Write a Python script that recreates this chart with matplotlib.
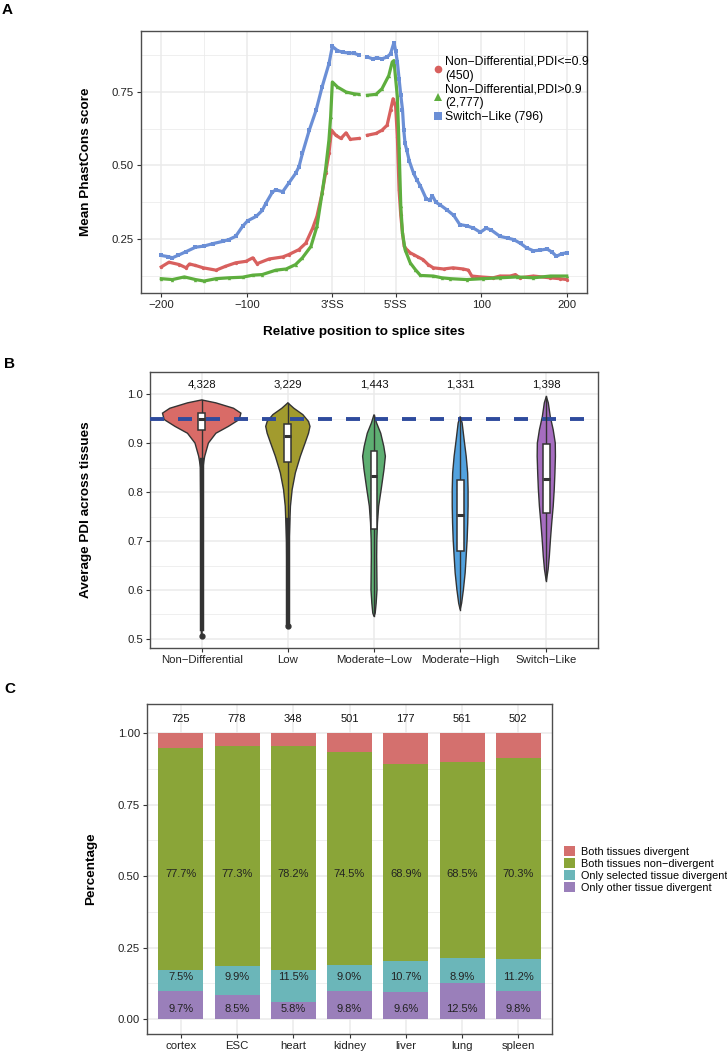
#!/usr/bin/env python3
"""
三联图: A 保守性曲线, B PDI 小提琴图, C 组织分歧堆叠柱状图
"""

import numpy as np
import matplotlib.pyplot as plt
from matplotlib.patches import Rectangle, Patch
from matplotlib.lines import Line2D

plt.rcParams['font.family'] = ['Liberation Sans', 'DejaVu Sans']

# ---------------- A: Mean PhastCons score ----------------
a_ticks = [-200, -100, 0, 74, 174, 274]
a_ticklabels = ['\u2212200', '\u2212100', "3'SS", "5'SS", '100', '200']
a_minor = [-150, -50, 37, 124, 224]
exon_gap = 36

red_pos = [-200, -191, -179, -171, -167, -160, -151, -136, -125, -113, -101, -93, -88, -74, -58, -51,
           -39, -31, -23, -18, -12, -8, -4, -1,
           4, 10, 16, 21, 31, 41, 51, 58, 64, 68, 71,
           74, 76, 78, 80, 82, 84, 87, 91, 95, 100, 106, 112, 118, 130, 141, 153, 159, 163, 173,
           188, 196, 208, 214, 219, 235, 254, 266, 274]
red_val = [0.155, 0.171, 0.163, 0.152, 0.165, 0.160, 0.152, 0.144, 0.157, 0.169, 0.174, 0.186, 0.166,
           0.182, 0.189, 0.197, 0.214, 0.236, 0.287, 0.327, 0.406, 0.473, 0.541, 0.620,
           0.603, 0.592, 0.611, 0.589, 0.592, 0.603, 0.609, 0.620, 0.637, 0.688, 0.727,
           0.700, 0.597, 0.417, 0.330, 0.270, 0.225, 0.214, 0.203, 0.197, 0.189, 0.180, 0.163,
           0.152, 0.148, 0.152, 0.148, 0.144, 0.124, 0.121, 0.118, 0.124, 0.124, 0.129, 0.118,
           0.124, 0.118, 0.115, 0.112]

green_pos = [-200, -187, -173, -160, -150, -136, -121, -105, -93, -82, -66, -54, -43, -35, -25, -18,
             -12, -8, -4, -2, 0,
             6, 16, 25, 31, 41, 51, 58, 66, 70, 72,
             76, 78, 80, 82, 85, 91, 97, 103, 118, 128, 138, 157, 176, 196, 216, 235, 255, 274]
green_val = [0.115, 0.112, 0.121, 0.112, 0.107, 0.115, 0.118, 0.120, 0.127, 0.129, 0.144, 0.148,
             0.163, 0.186, 0.225, 0.293, 0.406, 0.485, 0.586, 0.665, 0.784,
             0.767, 0.750, 0.744, 0.742, 0.739, 0.742, 0.761, 0.806, 0.852, 0.857,
             0.733, 0.564, 0.361, 0.270, 0.214, 0.169, 0.146, 0.126, 0.124, 0.118, 0.115, 0.112,
             0.115, 0.118, 0.121, 0.118, 0.124, 0.124]

blue_pos = [-200, -192, -187, -180, -171, -160, -150, -140, -128, -121, -113, -105, -99, -89, -82,
            -78, -70, -66, -58, -51, -43, -39, -35, -27, -19, -12, -4, 0,
            6, 12, 19, 25, 31, 41, 47, 52, 58, 64, 68, 72,
            74, 76, 78, 80, 82, 83.5, 85, 87, 90, 95, 99, 103, 110, 114, 117, 121, 126, 134, 142,
            149, 157, 165, 173, 180, 186, 196, 205, 212, 220, 227, 235, 243, 251, 257, 262, 268, 274]
blue_val = [0.194, 0.190, 0.186, 0.195, 0.207, 0.222, 0.226, 0.234, 0.242, 0.248, 0.259, 0.293,
            0.312, 0.327, 0.347, 0.370, 0.410, 0.417, 0.411, 0.440, 0.473, 0.496, 0.541, 0.620,
            0.688, 0.767, 0.846, 0.905,
            0.891, 0.885, 0.883, 0.882, 0.876, 0.869, 0.863, 0.866, 0.863, 0.869, 0.880, 0.918,
            0.890, 0.852, 0.795, 0.739, 0.690, 0.620, 0.575, 0.552, 0.515, 0.473, 0.450, 0.430,
            0.385, 0.383, 0.397, 0.375, 0.366, 0.349, 0.330, 0.299, 0.295, 0.287, 0.273, 0.287,
            0.280, 0.259, 0.253, 0.248, 0.235, 0.220, 0.210, 0.212, 0.216, 0.205, 0.191, 0.200,
            0.203]

a_labels = ['Non\u2212Differential,PDI<=0.9\n(450)',
            'Non\u2212Differential,PDI>0.9\n(2,777)',
            'Switch\u2212Like (796)']

# ---------------- B: Average PDI violins ----------------
b_cats = ['Non\u2212Differential', 'Low', 'Moderate\u2212Low', 'Moderate\u2212High', 'Switch\u2212Like']
b_counts = ['4,328', '3,229', '1,443', '1,331', '1,398']
b_threshold = 0.95

nd_y = [0.988, 0.982, 0.971, 0.961, 0.948, 0.934, 0.920, 0.900, 0.873, 0.863, 0.850, 0.750, 0.600, 0.508]
nd_w = [0.0, 0.165, 0.37, 0.455, 0.436, 0.31, 0.165, 0.078, 0.035, 0.025, 0.015, 0.010, 0.008, 0.004]
low_y = [0.982, 0.971, 0.958, 0.944, 0.934, 0.920, 0.900, 0.873, 0.839, 0.805, 0.771, 0.700, 0.600, 0.527]
low_w = [0.0, 0.07, 0.174, 0.24, 0.257, 0.24, 0.20, 0.145, 0.087, 0.05, 0.03, 0.015, 0.010, 0.004]
ml_y = [0.958, 0.941, 0.920, 0.893, 0.873, 0.846, 0.805, 0.771, 0.737, 0.703, 0.669, 0.635, 0.601,
        0.573, 0.553, 0.546]
ml_w = [0.0, 0.03, 0.078, 0.114, 0.132, 0.116, 0.083, 0.054, 0.040, 0.033, 0.031, 0.033, 0.035,
        0.025, 0.014, 0.0]
mh_y = [0.954, 0.941, 0.907, 0.873, 0.839, 0.805, 0.771, 0.737, 0.703, 0.669, 0.635, 0.601, 0.573, 0.560]
mh_w = [0.0, 0.023, 0.046, 0.070, 0.087, 0.092, 0.092, 0.088, 0.081, 0.070, 0.058, 0.038, 0.017, 0.0]
sw_y = [0.995, 0.982, 0.954, 0.927, 0.900, 0.873, 0.839, 0.805, 0.771, 0.737, 0.703, 0.669, 0.642, 0.618]
sw_w = [0.0, 0.023, 0.046, 0.080, 0.104, 0.106, 0.100, 0.092, 0.080, 0.063, 0.048, 0.035, 0.021, 0.0]

# 箱线图: 下须, Q1, 中位数, Q3, 上须
b_box = [[0.868, 0.926, 0.949, 0.961, 0.988],
         [0.744, 0.861, 0.914, 0.939, 0.982],
         [0.546, 0.725, 0.833, 0.883, 0.958],
         [0.560, 0.680, 0.754, 0.824, 0.954],
         [0.618, 0.757, 0.827, 0.899, 0.995]]
# 离群点 (密集, 呈线段) 范围与最小值
b_outlier_span = {0: (0.520, 0.866), 1: (0.530, 0.742)}
b_outlier_min = {0: 0.507, 1: 0.527}

# ---------------- C: tissue divergence ----------------
c_tissues = ['cortex', 'ESC', 'heart', 'kidney', 'liver', 'lung', 'spleen']
c_counts = [725, 778, 348, 501, 177, 561, 502]
other_div = [9.7, 8.5, 5.8, 9.8, 9.6, 12.5, 9.8]
selected_div = [7.5, 9.9, 11.5, 9.0, 10.7, 8.9, 11.2]
both_nondiv = [77.7, 77.3, 78.2, 74.5, 68.9, 68.5, 70.3]
both_div = [5.1, 4.3, 4.5, 6.7, 10.8, 10.1, 8.7]
c_legend = ['Both tissues divergent', 'Both tissues non\u2212divergent',
            'Only selected tissue divergent', 'Only other tissue divergent']

GRID = '#EBEBEB'
BORDER = '#4D4D4D'
TICK = '#333333'


def style_axes(ax):
    for s in ax.spines.values():
        s.set_color(BORDER)
        s.set_linewidth(1.0)
    ax.grid(True, which='major', color=GRID, lw=1.1)
    ax.grid(True, which='minor', color=GRID, lw=0.55)
    ax.set_axisbelow(True)
    ax.tick_params(which='major', length=3, width=0.8, color=TICK, labelsize=8.2,
                   labelcolor='#222222', pad=2)
    ax.tick_params(which='minor', length=0)


def panel_a(fig):
    ax = fig.add_axes([141 / 727, 1 - 293 / 1051, 446 / 727, 262 / 1051])
    style_axes(ax)
    series = [(red_pos, red_val, '#D8605E', 'o'),
              (green_pos, green_val, '#5EAE3E', '^'),
              (blue_pos, blue_val, '#6B8FD6', 's')]
    handles = []
    for pos, val, col, mk in series:
        pos = np.array(pos, dtype=float)
        val = np.array(val)
        for m in (pos < exon_gap, pos > exon_gap):
            ax.plot(pos[m], val[m], color=col, lw=2.3, marker=mk, ms=2.4, mew=0)
        handles.append(Line2D([], [], ls='none', marker=mk, color=col, ms=5.5, mew=0))
    ax.set_xlim(-223.7, 297.7)
    ax.set_ylim(0.0663, 0.9575)
    ax.set_xticks(a_ticks)
    ax.set_xticklabels(a_ticklabels)
    ax.set_xticks(a_minor, minor=True)
    ax.set_yticks([0.25, 0.50, 0.75])
    ax.set_yticklabels(['0.25', '0.50', '0.75'])
    ax.set_yticks([0.125, 0.375, 0.625, 0.875], minor=True)
    ax.set_ylabel('Mean PhastCons score', fontsize=9.7, fontweight='bold')
    ax.yaxis.set_label_coords(-0.11, 0.5)
    ax.set_xlabel('Relative position to splice sites', fontsize=9.7, fontweight='bold')
    ax.xaxis.set_label_coords(0.5, -0.125)
    ax.legend(handles, a_labels, loc='upper left', bbox_to_anchor=(433 / 727, 1 - 56 / 1051),
              bbox_transform=fig.transFigure, frameon=False, fontsize=8.8,
              handlelength=0.8, handletextpad=0.2, labelspacing=0.14,
              borderpad=0, borderaxespad=0)


def panel_b(fig):
    ax = fig.add_axes([150 / 727, 1 - 648 / 1051, 448 / 727, 276 / 1051])
    style_axes(ax)
    shapes = [(nd_y, nd_w), (low_y, low_w), (ml_y, ml_w), (mh_y, mh_w), (sw_y, sw_w)]
    colors = ['#D96B67', '#A29B2E', '#5EAF72', '#52A2DF', '#A66DC0']
    dark = '#333333'
    for i, ((ys, ws), col) in enumerate(zip(shapes, colors)):
        x0 = i + 1
        ys = np.array(ys)
        ws = np.array(ws)
        px = np.concatenate([x0 - ws, (x0 + ws)[::-1]])
        py = np.concatenate([ys, ys[::-1]])
        ax.fill(px, py, facecolor=col, edgecolor=dark, lw=1.0, zorder=2)
        lo, q1, med, q3, hi = b_box[i]
        if i in b_outlier_span:
            a, b = b_outlier_span[i]
            ax.plot([x0, x0], [a, b], color=dark, lw=3.2, zorder=3)
            ax.plot([x0], [b_outlier_min[i]], 'o', color=dark, ms=3.5, zorder=3)
        ax.plot([x0, x0], [lo, q1], color=dark, lw=1.0, zorder=4)
        ax.plot([x0, x0], [q3, hi], color=dark, lw=1.0, zorder=4)
        ax.add_patch(Rectangle((x0 - 0.04, q1), 0.08, q3 - q1, facecolor='white',
                               edgecolor=dark, lw=1.1, zorder=5))
        ax.plot([x0 - 0.04, x0 + 0.04], [med, med], color=dark, lw=2.2, zorder=6,
                solid_capstyle='butt')
        ax.text(x0, 1.02, b_counts[i], ha='center', va='center', fontsize=8.2, color='#111111')
    ax.axhline(b_threshold, color='#2E4B9D', lw=2.8, dashes=(3.6, 3.6), zorder=3.5)
    ax.set_xlim(0.4, 5.6)
    ax.set_ylim(0.4816, 1.045)
    ax.set_xticks(range(1, 6))
    ax.set_xticklabels(b_cats)
    ax.set_yticks([0.5, 0.6, 0.7, 0.8, 0.9, 1.0])
    ax.set_yticklabels(['0.5', '0.6', '0.7', '0.8', '0.9', '1.0'])
    ax.set_yticks([0.55, 0.65, 0.75, 0.85, 0.95], minor=True)
    ax.set_ylabel('Average PDI across tissues', fontsize=9.7, fontweight='bold')
    ax.yaxis.set_label_coords(-0.129, 0.5)


def panel_c(fig):
    ax = fig.add_axes([147 / 727, 1 - 1034 / 1051, 405 / 727, 330 / 1051])
    style_axes(ax)
    x = np.arange(1, len(c_tissues) + 1)
    cols = ['#9A7FBA', '#6BB6B9', '#8AA538', '#D4706E']
    layers = [other_div, selected_div, both_nondiv, both_div]
    bottom = np.zeros(len(x))
    for vals, col in zip(layers, cols):
        v = np.array(vals) / 100
        ax.bar(x, v, width=0.8, bottom=bottom, color=col, edgecolor='none', zorder=2)
        bottom += v
    for xi, n, o, s, b in zip(x, c_counts, other_div, selected_div, both_nondiv):
        ax.text(xi, 1.05, str(n), ha='center', va='center', fontsize=8, color='#111111')
        ax.text(xi, 0.509, f'{b:.1f}%', ha='center', va='center', fontsize=8, color='#222222')
        ax.text(xi, 0.146, f'{s:.1f}%', ha='center', va='center', fontsize=8, color='#222222')
        ax.text(xi, 0.036, f'{o:.1f}%', ha='center', va='center', fontsize=8, color='#222222')
    ax.set_xlim(0.4, 7.6)
    ax.set_ylim(-0.0525, 1.1025)
    ax.set_xticks(x)
    ax.set_xticklabels(c_tissues)
    ax.set_yticks([0, 0.25, 0.5, 0.75, 1.0])
    ax.set_yticklabels(['0.00', '0.25', '0.50', '0.75', '1.00'])
    ax.set_yticks([0.125, 0.375, 0.625, 0.875], minor=True)
    ax.set_ylabel('Percentage', fontsize=9.7, fontweight='bold')
    ax.yaxis.set_label_coords(-0.123, 0.5)
    handles = [Patch(facecolor=c) for c in cols[::-1]]
    ax.legend(handles, c_legend, loc='upper left', bbox_to_anchor=(564 / 727, 1 - 846 / 1051),
              bbox_transform=fig.transFigure, frameon=False, fontsize=7.8,
              handlelength=1.05, handleheight=1.05, handletextpad=0.55, labelspacing=0.12,
              borderpad=0, borderaxespad=0)


def main():
    fig = plt.figure(figsize=(7.27, 10.51), dpi=100)
    panel_a(fig)
    panel_b(fig)
    panel_c(fig)
    for lab, (px, py) in zip('ABC', [(2, 3), (4, 357), (4, 682)]):
        fig.text(px / 727, 1 - py / 1051, lab, fontsize=11, fontweight='bold',
                 ha='left', va='top')
    fig.savefig('out.png', dpi=100)


if __name__ == '__main__':
    main()
